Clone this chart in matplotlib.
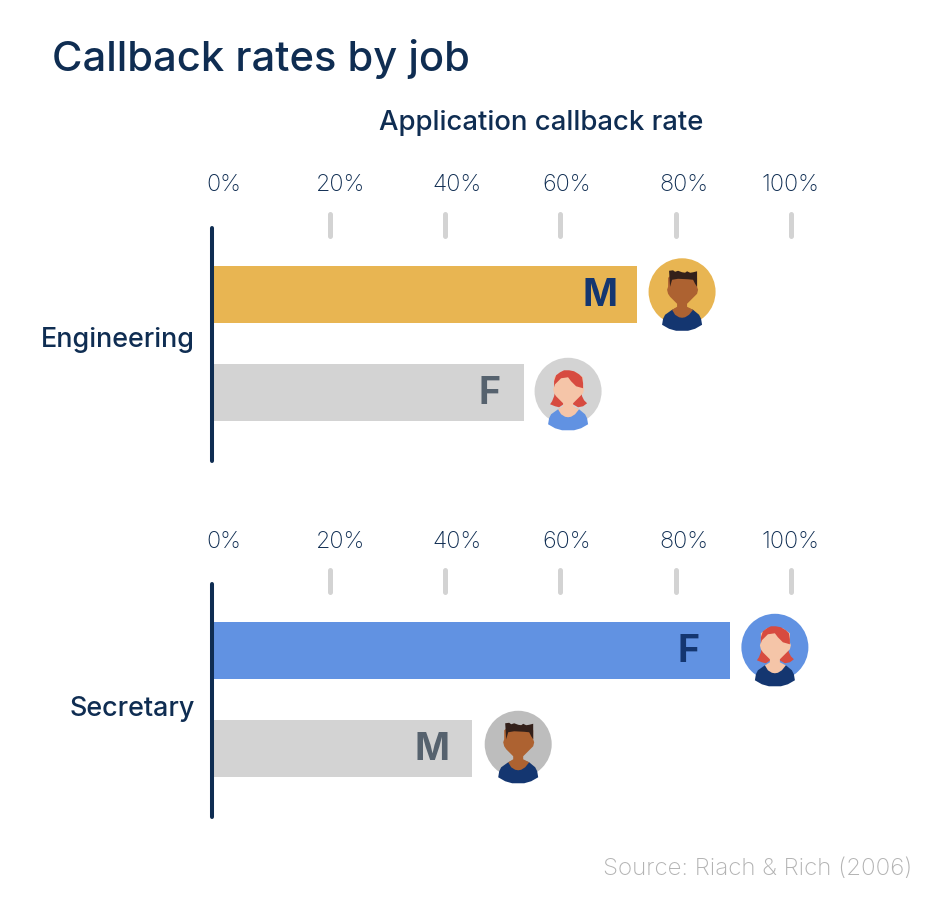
import matplotlib
matplotlib.use("Agg")
import matplotlib.pyplot as plt
from matplotlib.patches import Circle, Polygon

W, H = 940, 898
FONT = ["Inter", "DejaVu Sans"]
plt.rcParams["font.family"] = FONT

title = "Callback rates by job"
axis_title = "Application callback rate"
source = "Source: Riach & Rich (2006)"
groups = ["Engineering", "Secretary"]
tick_values = [20, 40, 60, 80, 100]
tick_labels = ["0%", "20%", "40%", "60%", "80%", "100%"]
tick_label_positions = [1.7, 21.8, 42.0, 61.1, 81.4, 99.9]
engineering_genders = ["M", "F"]
engineering_rates = [73.3, 53.7]
engineering_colors = ["#E8B552", "#D3D3D3"]
engineering_avatar_bg = ["#E8B552", "#D3D3D3"]
secretary_genders = ["F", "M"]
secretary_rates = [89.4, 44.7]
secretary_colors = ["#6192E2", "#D3D3D3"]
secretary_avatar_bg = ["#6192E2", "#BDBDBD"]

NAVY = "#0F2D52"
NAVY_MARK = "#143670"
SKIN_M, HAIR_M = "#AD6231", "#33201A"
SKIN_F, HAIR_F, TOP_F = "#F5C5A8", "#D74B40", "#6192E2"
TICK_FS, GENDER_FS, GROUP_FS = 16.8, 27, 19.4

fig = plt.figure(figsize=(W / 100, H / 100), dpi=100, facecolor="white")


def px_axes(x0, x1, ytop, ybot):
    return fig.add_axes([x0 / W, 1 - ybot / H, (x1 - x0) / W, (ybot - ytop) / H])


# overlay in pixel coordinates for the decorative avatars and figure text
ov = fig.add_axes([0, 0, 1, 1], zorder=5)
ov.set_xlim(0, W)
ov.set_ylim(H, 0)
ov.axis("off")
ov.patch.set_alpha(0)


def avatar(cx, cy, bg, gender, shirt):
    ov.add_patch(Circle((cx, cy), 33.5, fc=bg, ec="none"))

    def poly(pts, color, z=1):
        ov.add_patch(Polygon([(cx + a, cy + b) for a, b in pts], closed=True,
                             fc=color, ec="none", zorder=z))

    skin = SKIN_F if gender == "F" else SKIN_M
    if gender == "F":
        poly([(-13, 0), (-14, 5), (-16, 10), (-18, 13), (-13, 15), (-9, 16), (-3, 12), (3, 12),
              (10, 16), (15, 15), (19, 12), (16, 9), (14, 5), (13, 0)], HAIR_F, 2)
    poly([(-20, 33), (-19, 27), (-17, 23), (-10, 18), (-5, 16), (5, 16), (11, 18), (17, 23),
          (19, 27), (20, 33), (13, 37), (6, 39), (-6, 39), (-13, 37)], shirt, 3)
    # head, neck and collar scoop in one outline
    poly([(-14, -14), (-14, -5), (-15, -2), (-14, 2), (-12, 5), (-8, 9), (-5, 12), (-5, 15),
          (-10, 18), (-7, 23), (-3, 25.5), (0, 26), (3, 25.5), (7, 23), (11, 18), (5, 15), (5, 12),
          (8, 9), (12, 5), (15, 2), (16, -2), (15, -5), (15, -14), (8, -19), (-8, -19)], skin, 5)
    if gender == "M":
        poly([(-13, -21), (-9, -21.5), (-7, -20), (-4, -21), (0, -19.5), (3, -19), (5, -20.5), (8, -19),
              (11, -19.5), (15, -20.5), (15, -5), (13, -8), (11, -12), (6, -12.5), (-4, -13), (-10, -12),
              (-12, -5)], HAIR_M, 6)
    else:
        poly([(-14, -4), (-14, -10), (-12, -16), (-8, -19), (-4, -21), (1, -21), (6, -20), (11, -17),
              (14, -14), (15, -8), (15, -3), (8, -5), (3, -10), (0, -14), (-7, -13), (-13, -7)], HAIR_F, 6)


def panel(ytop, genders, rates, colors, bg, label, label_y, shirts, label_gaps, avatar_dx, avatar_dy):
    ybot = ytop + 233
    ax = px_axes(214.5, 791, ytop, ybot)
    ax.patch.set_alpha(0)
    ax.set_xlim(0, 100)
    ax.set_ylim(1.705, -0.685)
    ax.barh([0, 1], [r + 0.2 for r in rates], left=-0.2, height=0.585, color=colors,
            zorder=2, clip_on=False)
    for s in ["top", "right", "bottom"]:
        ax.spines[s].set_visible(False)
    sp = ax.spines["left"]
    sp.set_position(("outward", 1.8))
    sp.set_linewidth(2.9)
    sp.set_color(NAVY)
    sp.set_capstyle("round")
    ax.set_xticks([])
    ax.set_yticks([])
    tr = ax.get_xaxis_transform()
    ax.vlines(tick_values, 1.0 + 14 / 233, 1.0 - 8 / 233, transform=tr, colors="#D3D3D3",
              linewidth=3.6, capstyle="round", clip_on=False)
    for pos, txt in zip(tick_label_positions, tick_labels):
        ax.text(pos, 1.0 + 42.5 / 233, txt, transform=tr, ha="center", va="center",
                fontsize=TICK_FS, color=NAVY, clip_on=False, fontweight="light")
    for i, (g, r, c) in enumerate(zip(genders, rates, colors)):
        strong = c != "#D3D3D3"
        ax.annotate(g, (r, i), xytext=(-label_gaps[i] * 0.72, -1), textcoords="offset points",
                    ha="right", va="center", fontsize=GENDER_FS, fontweight="bold",
                    color=NAVY_MARK if strong else "#56626E", zorder=3)
        # place the avatar from the bar's end in display space
        xd, yd = ax.transData.transform((r, i))
        avatar(xd + avatar_dx[i], H - yd + avatar_dy[i], bg[i], g, shirts[i])
    ov.text(195, label_y, label, ha="right", va="center",
            fontsize=GROUP_FS, fontweight="medium", color=NAVY)


panel(228, engineering_genders, engineering_rates, engineering_colors, engineering_avatar_bg,
      groups[0], 340, [NAVY_MARK, TOP_F], [20, 24], [45, 44], [-3, -1])
panel(584, secretary_genders, secretary_rates, secretary_colors, secretary_avatar_bg,
      groups[1], 709, [NAVY_MARK, NAVY_MARK], [30, 23], [45, 46], [-3.5, -4])

ov.text(52, 59, title, ha="left", va="center", fontsize=30, fontweight="medium", color=NAVY)
ov.text(541, 123.5, axis_title, ha="center", va="center", fontsize=19.8, fontweight="medium", color=NAVY)
ov.text(912, 869, source, ha="right", va="center", fontsize=17.4, fontweight="light", color="#B3B3B3")

fig.savefig("out.png", dpi=100, facecolor="white")
